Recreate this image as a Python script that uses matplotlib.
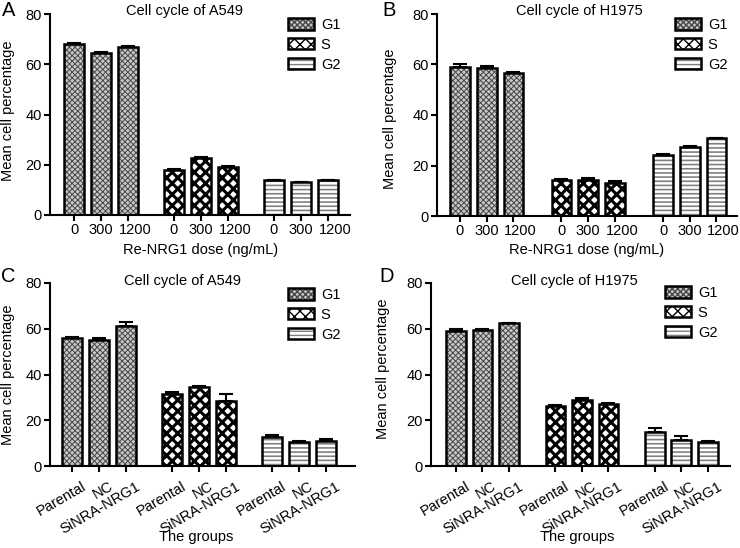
import numpy as np
import matplotlib
matplotlib.use('Agg')
import matplotlib.pyplot as plt
import matplotlib.transforms as mtransforms
from matplotlib.patches import Rectangle
from matplotlib.legend_handler import HandlerTuple

plt.rcParams['font.family'] = ['Liberation Sans', 'DejaVu Sans']

# ---------------- data ----------------
phases = ['G1', 'S', 'G2']
dose_labels = ['0', '300', '1200']
group_labels = ['Parental', 'NC', 'SiNRA-NRG1']

# Panel A: Cell cycle of A549 (Re-NRG1 dose)
a_g1 = [68.0, 64.3, 67.0]
a_s = [18.0, 22.6, 19.1]
a_g2 = [13.8, 13.0, 13.8]
a_g1_err = [0.5, 0.4, 0.4]
a_s_err = [0.3, 0.6, 0.4]
a_g2_err = [0.3, 0.2, 0.3]

# Panel B: Cell cycle of H1975 (Re-NRG1 dose)
b_g1 = [59.0, 58.6, 56.8]
b_s = [14.1, 14.3, 12.9]
b_g2 = [24.2, 27.3, 30.7]
b_g1_err = [1.2, 0.8, 0.2]
b_s_err = [0.7, 0.6, 0.8]
b_g2_err = [0.3, 0.3, 0.3]

# Panel C: Cell cycle of A549 (groups)
c_g1 = [56.0, 55.2, 61.0]
c_s = [31.5, 34.5, 28.5]
c_g2 = [12.6, 10.5, 11.0]
c_g1_err = [0.2, 0.8, 1.8]
c_s_err = [0.8, 0.4, 3.0]
c_g2_err = [1.0, 0.6, 0.8]

# Panel D: Cell cycle of H1975 (groups)
d_g1 = [59.0, 59.5, 62.3]
d_s = [26.2, 29.0, 27.3]
d_g2 = [14.8, 11.5, 10.3]
d_g1_err = [0.8, 0.5, 0.3]
d_s_err = [0.6, 0.9, 0.4]
d_g2_err = [1.8, 1.5, 0.7]

# ---------------- style ----------------
W, H = 740, 548
fig = plt.figure(figsize=(W / 100, H / 100), dpi=100)

STYLES = {
    'G1': dict(face='#c8c8c8', hatch='xxxxxx', hcolor='#474747', hlw=0.7),
    'S': dict(face='white', hatch='xxx', hcolor='black', hlw=2.2),
    'G2': dict(face='white', hatch='----', hcolor='#808080', hlw=1.2),
}
EDGE_LW = 1.8
BAR_W = 0.74
FS = 10.5


def fx(x):
    return x / W


def fy(y):
    return 1 - y / H


def hatch_patch(style, **kw):
    with plt.rc_context({'hatch.linewidth': style['hlw']}):
        p = Rectangle((0, 0), 1, 1, facecolor=style['face'], edgecolor=style['hcolor'],
                      hatch=style['hatch'], linewidth=0, **kw)
    if hasattr(p, 'set_hatch_linewidth'):
        p.set_hatch_linewidth(style['hlw'])
    return p


def panel(rect_px, series, errs, ticklabels, xlim, step, rotate,
          title, title_px, letter, letter_px, legend_px,
          xlabel, xlabel_px, ylabel_xy):
    left, top, right, bottom = rect_px
    ax = fig.add_axes([fx(left), fy(bottom), fx(right - left), (bottom - top) / H])
    positions = []
    for k, (ph, vals, err) in enumerate(zip(phases, series, errs)):
        st = STYLES[ph]
        x = k * step + np.arange(len(vals))
        positions.extend(x)
        with plt.rc_context({'hatch.linewidth': st['hlw']}):
            bars = ax.bar(x, vals, width=BAR_W, color=st['face'], edgecolor=st['hcolor'],
                          hatch=st['hatch'], linewidth=0, zorder=2)
        for b in bars:
            if hasattr(b, 'set_hatch_linewidth'):
                b.set_hatch_linewidth(st['hlw'])
        ax.errorbar(x, vals, yerr=[np.zeros(len(err)), err], fmt='none', ecolor='black',
                    elinewidth=1.5, capsize=5, capthick=1.5, zorder=3)
        ax.bar(x, vals, width=BAR_W, fill=False, edgecolor='black', linewidth=EDGE_LW, zorder=4)

    ax.set_xlim(*xlim)
    ax.set_ylim(0, 80)
    ax.set_yticks([0, 20, 40, 60, 80])
    for s in ['top', 'right']:
        ax.spines[s].set_visible(False)
    for s in ['left', 'bottom']:
        ax.spines[s].set_linewidth(1.5)
    ax.tick_params(axis='both', length=4, width=1.5, labelsize=FS, pad=2, color='black')
    ax.set_xticks(positions)
    labels = list(ticklabels) * 3
    if rotate:
        ax.tick_params(axis='x', pad=10)
        ax.set_xticklabels(labels, rotation=30, ha='right', va='center', rotation_mode='anchor')
        off = mtransforms.ScaledTranslation(0.13, 0, fig.dpi_scale_trans)
        for lab in ax.get_xticklabels():
            lab.set_transform(lab.get_transform() + off)
    else:
        ax.set_xticklabels(labels)
        off = mtransforms.ScaledTranslation(0.07, 0, fig.dpi_scale_trans)
        for lab in ax.get_xticklabels():
            if lab.get_text() == '1200':
                lab.set_transform(lab.get_transform() + off)

    ax.set_ylabel('Mean cell percentage', fontsize=FS)
    ax.yaxis.set_label_coords(*ylabel_xy)

    fig.text(fx(title_px[0]), fy(title_px[1]), title, fontsize=FS, ha='center', va='center')
    fig.text(fx(letter_px[0]), fy(letter_px[1]), letter, fontsize=14.5, ha='center', va='center')
    fig.text(fx(xlabel_px[0]), fy(xlabel_px[1]), xlabel, fontsize=FS, ha='center', va='center')

    handles = []
    for ph in phases:
        st = STYLES[ph]
        hp = hatch_patch(st)
        ep = Rectangle((0, 0), 1, 1, fill=False, edgecolor='black', linewidth=EDGE_LW)
        handles.append((hp, ep))
    ax.legend(handles, phases, handler_map={tuple: HandlerTuple(ndivide=1, pad=0)},
              loc='upper left', bbox_to_anchor=(fx(legend_px[0]), fy(legend_px[1])),
              bbox_transform=fig.transFigure, frameon=False, fontsize=FS,
              borderpad=0, borderaxespad=0, handlelength=1.75, handleheight=0.8,
              handletextpad=0.5, labelspacing=0.4)
    return ax


panel((50, 14, 350, 215), [a_g1, a_s, a_g2], [a_g1_err, a_s_err, a_g2_err],
      dose_labels, (-0.89, 10.22), 3.7, False,
      'Cell cycle of A549', (185, 11), 'A', (8.5, 10), (288, 18),
      'Re-NRG1 dose (ng/mL)', (201, 250), (-0.117, 0.52))

panel((437, 14, 737, 216), [b_g1, b_s, b_g2], [b_g1_err, b_s_err, b_g2_err],
      dose_labels, (-0.86, 10.37), 3.8, False,
      'Cell cycle of H1975', (579, 11), 'B', (389, 11), (675, 18),
      'Re-NRG1 dose (ng/mL)', (587, 250), (-0.133, 0.48))

panel((50, 283, 355, 466), [c_g1, c_s, c_g2], [c_g1_err, c_s_err, c_g2_err],
      group_labels, (-0.81, 10.48), 3.7, True,
      'Cell cycle of A549', (182, 281), 'C', (8.5, 276.5), (288, 288),
      'The groups', (196, 537), (-0.115, 0.50))

panel((431, 283, 730, 466), [d_g1, d_s, d_g2], [d_g1_err, d_s_err, d_g2_err],
      group_labels, (-0.94, 10.34), 3.75, True,
      'Cell cycle of H1975', (574, 281), 'D', (386.5, 276.5), (665, 286),
      'The groups', (577, 537), (-0.137, 0.53))

fig.savefig('out.png', dpi=100)
